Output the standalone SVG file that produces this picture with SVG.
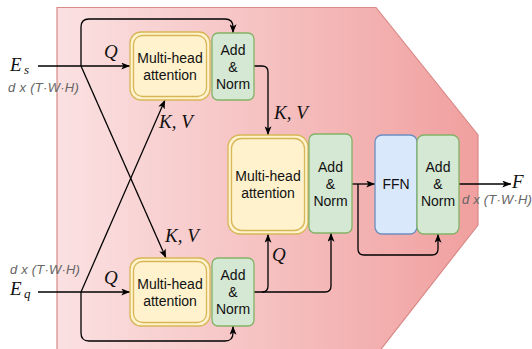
<svg xmlns="http://www.w3.org/2000/svg" width="532" height="349" viewBox="0 0 532 349">
<defs>
<linearGradient id="bg" x1="0" y1="0" x2="1" y2="0">
<stop offset="0" stop-color="#fbe1e2"/>
<stop offset="1" stop-color="#f0a09f"/>
</linearGradient>
<marker id="arr" viewBox="0 0 10 8" refX="10" refY="4" markerWidth="9" markerHeight="7" markerUnits="userSpaceOnUse" orient="auto">
<path d="M0,0 L10,4 L0,8 L2.5,4 Z" fill="#000"/>
</marker>
<style>
.mha{fill:#fff2cc;stroke:#d6b656;stroke-width:1.3}
.an{fill:#d5e8d4;stroke:#82b366;stroke-width:1.3}
.ffn{fill:#dae8fc;stroke:#6c8ebf;stroke-width:1.3}
.t{font-family:"Liberation Sans",Arial,sans-serif;font-size:14px;fill:#111;text-anchor:middle}
.m{font-family:"Liberation Serif","Times New Roman",serif;font-style:italic;font-size:19px;fill:#111}
.sub{font-family:"Liberation Serif","Times New Roman",serif;font-style:italic;font-size:13px;fill:#111}
.d{font-family:"Liberation Sans",Arial,sans-serif;font-style:italic;font-size:13px;fill:#666}
.c{fill:none;stroke:#000;stroke-width:1.3}
</style>
</defs>
<polygon points="57,7.5 376,7.5 478,135 478,225 378,353 57,353" fill="url(#bg)" stroke="#d98a88" stroke-width="1.2"/>

<g id="connectors">
<path class="c" d="M38,66 H130" marker-end="url(#arr)"/>
<path class="c" d="M81,66 V27 Q81,19 89,19 H225 Q233,19 233,27 V33" marker-end="url(#arr)"/>
<path class="c" d="M81,66 L166,258" marker-end="url(#arr)"/>
<path class="c" d="M38,292 H130" marker-end="url(#arr)"/>
<path class="c" d="M81,292 V333 Q81,341 89,341 H225 Q233,341 233,333 V326" marker-end="url(#arr)"/>
<path class="c" d="M81,292 L165,100" marker-end="url(#arr)"/>
<path class="c" d="M254,66 H262 Q268,66 268,72 V135" marker-end="url(#arr)"/>
<path class="c" d="M254,292 H262 Q268,292 268,286 V234" marker-end="url(#arr)"/>
<path class="c" d="M262,292 H325 Q331,292 331,286 V233" marker-end="url(#arr)"/>
<path class="c" d="M352,184 H375" marker-end="url(#arr)"/>
<path class="c" d="M358,184 V249 Q358,255 364,255 H432 Q438,255 438,249 V234" marker-end="url(#arr)"/>
<path class="c" d="M459,184 H511" marker-end="url(#arr)"/>
</g>

<g id="mha-top">
<rect class="mha" x="130" y="32" width="80" height="68" rx="11"/>
<rect class="mha" x="133.5" y="35.5" width="73" height="61" rx="9"/>
<text class="t" x="170" y="63">Multi-head</text>
<text class="t" x="170" y="80">attention</text>
</g>
<g id="an-top">
<rect class="an" x="212" y="33" width="42" height="67" rx="6"/>
<text class="t" x="233" y="55">Add</text>
<text class="t" x="233" y="72">&amp;</text>
<text class="t" x="233" y="89">Norm</text>
</g>
<g id="mha-bottom">
<rect class="mha" x="130" y="258" width="80" height="68" rx="11"/>
<rect class="mha" x="133.5" y="261.5" width="73" height="61" rx="9"/>
<text class="t" x="170" y="289">Multi-head</text>
<text class="t" x="170" y="306">attention</text>
</g>
<g id="an-bottom">
<rect class="an" x="212" y="258" width="42" height="68" rx="6"/>
<text class="t" x="233" y="280">Add</text>
<text class="t" x="233" y="297">&amp;</text>
<text class="t" x="233" y="314">Norm</text>
</g>
<g id="mha-mid">
<rect class="mha" x="228" y="135" width="80" height="99" rx="12"/>
<rect class="mha" x="231.5" y="138.5" width="73" height="92" rx="10"/>
<text class="t" x="268" y="181">Multi-head</text>
<text class="t" x="268" y="198">attention</text>
</g>
<g id="an-mid">
<rect class="an" x="309" y="134" width="43" height="99" rx="6"/>
<text class="t" x="330.5" y="172">Add</text>
<text class="t" x="330.5" y="189">&amp;</text>
<text class="t" x="330.5" y="206">Norm</text>
</g>
<g id="ffn">
<rect class="ffn" x="375" y="135" width="42" height="99" rx="7"/>
<text class="t" x="396" y="189">FFN</text>
</g>
<g id="an-out">
<rect class="an" x="417" y="135" width="42" height="99" rx="7"/>
<text class="t" x="438" y="172">Add</text>
<text class="t" x="438" y="189">&amp;</text>
<text class="t" x="438" y="206">Norm</text>
</g>

<g id="labels">
<text class="m" x="10" y="71">E</text><text class="sub" x="24" y="74">s</text>
<text class="d" x="8" y="92" letter-spacing="0.3">d x (T·W·H)</text>
<text class="d" x="10" y="274" letter-spacing="0.2">d x (T·W·H)</text>
<text class="m" x="10" y="295">E</text><text class="sub" x="24" y="298">q</text>
<text class="m" x="104" y="58">Q</text>
<text class="m" x="104" y="284">Q</text>
<text class="m" x="272" y="261">Q</text>
<text class="m" x="159" y="128">K, V</text>
<text class="m" x="165" y="242">K, V</text>
<text class="m" x="274" y="119">K, V</text>
<text class="m" x="512" y="188">F</text>
<text class="d" x="462" y="204" letter-spacing="0.2">d x (T·W·H)</text>
</g>
</svg>
